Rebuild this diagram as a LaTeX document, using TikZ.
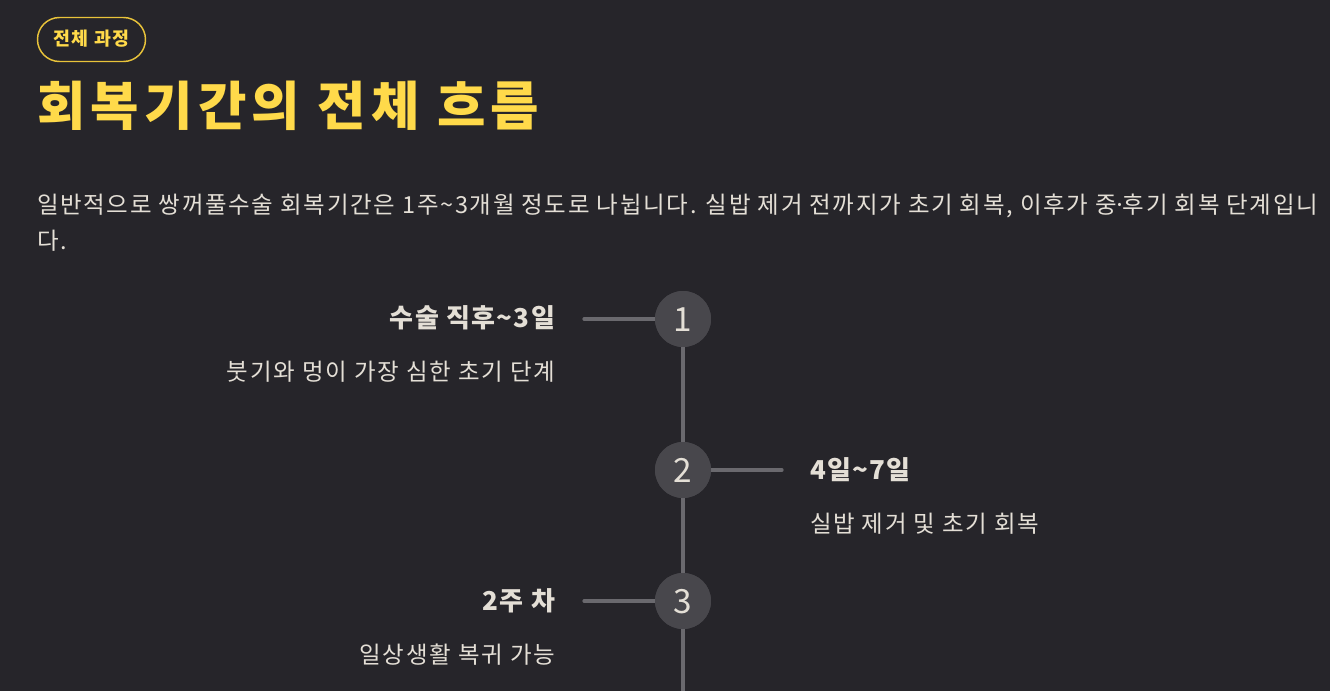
\documentclass[tikz,border=0pt]{standalone}
\usepackage{fontspec}
\setmainfont{Noto Sans CJK KR}
\definecolor{bg}{HTML}{26252A}
\definecolor{ylw}{HTML}{FFDA4A}
\definecolor{badgeline}{HTML}{E8C33A}
\definecolor{txt}{HTML}{E4DFD6}
\definecolor{circ}{HTML}{48474C}
\definecolor{lin}{HTML}{6A696E}
\newcommand{\tld}{\char"7E\relax}
\newcommand{\mdot}{\kern-0.15em·\kern-0.15em}
\tikzset{
  px/.style={x=0.75pt,y=-0.75pt},
  txtnode/.style={inner sep=0pt, outer sep=0pt, text=txt},
  steptitle/.style={txtnode, font=\fontsize{19.5pt}{22pt}\selectfont\bfseries\addfontfeature{LetterSpace=5}},
  stepdesc/.style={txtnode, font=\fontsize{17.6pt}{21pt}\selectfont\addfontfeature{LetterSpace=7.5}},
  paratext/.style={txtnode, font=\fontsize{17.6pt}{21pt}\selectfont\addfontfeature{LetterSpace=7.3}},
  stepcirc/.style={circle, fill=circ, minimum size=42pt, inner sep=0pt, text=txt,
     font=\fontsize{25pt}{28pt}\selectfont, text height=18.3pt, text depth=0pt},
  conn/.style={draw=lin, line width=2.4pt, line cap=round},
}
\begin{document}
\begin{tikzpicture}[px]
\fill[bg] (0,0) rectangle (1330,691);
\useasboundingbox (0,0) rectangle (1330,691);
% badge
\node[draw=badgeline, line width=1.1pt, rounded corners=16.5pt, minimum width=81pt, minimum height=33pt,
      inner sep=0pt, text=ylw, font=\fontsize{13.8pt}{16pt}\selectfont\bfseries\addfontfeature{LetterSpace=7}, text height=10.5pt, text depth=1.5pt]
      (badge) at (91.5,39.5) {전체 과정};
% title
\node[txtnode, text=ylw, anchor=base west, font=\fontsize{39.5pt}{44pt}\selectfont\bfseries\addfontfeature{LetterSpace=10}]
      (title) at (37,126) {회복기간의 전체 흐름};
% paragraph
\node[paratext, anchor=base west] (para1) at (37,214)
  {일반적으로 쌍꺼풀수술 회복기간은 1주\tld3개월 정도로 나뉩니다. 실밥 제거 전까지가 초기 회복, 이후가 중\mdot 후기 회복 단계입니};
\node[paratext, anchor=base west] (para2) at (37,250) {다.};
% timeline
\coordinate (bottom) at (683,691);
\coordinate (l1) at (584,319);
\coordinate (r2) at (782,470);
\coordinate (l3) at (584,601);
\node[stepcirc] (c1) at (683,319) {};
\node[stepcirc] (c2) at (683,470) {};
\node[stepcirc] (c3) at (683,601) {};
\draw[conn] (c1.center) -- (c2.center);
\draw[conn] (c2.center) -- (c3.center);
\draw[conn, line cap=butt] (c3.center) -- (bottom);
\draw[conn] (l1) -- (c1.west);
\draw[conn] (c2.east) -- (r2);
\draw[conn] (l3) -- (c3.west);
\node[stepcirc] at (c1) {1};
\node[stepcirc] at (c2) {2};
\node[stepcirc] at (c3) {3};
% labels
\node[steptitle, anchor=base east] (t1) at (555,327) {수술 직후\tld3일};
\node[stepdesc, anchor=base east] (d1) at (555,380) {붓기와 멍이 가장 심한 초기 단계};
\node[steptitle, anchor=base west] (t2) at (810,479) {4일\tld7일};
\node[stepdesc, anchor=base west] (d2) at (810,532) {실밥 제거 및 초기 회복};
\node[steptitle, anchor=base east] (t3) at (555,610) {2주 차};
\node[stepdesc, anchor=base east] (d3) at (555,663) {일상생활 복귀 가능};
\end{tikzpicture}
\end{document}
